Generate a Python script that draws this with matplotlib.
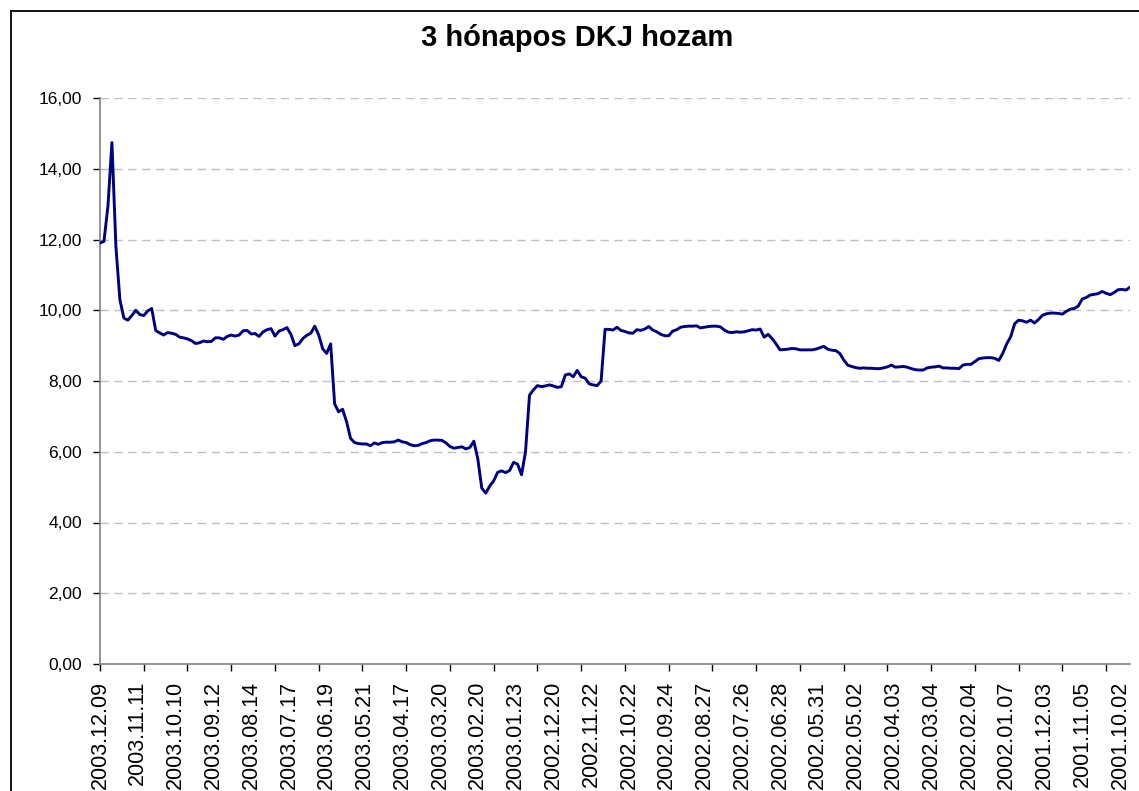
import matplotlib
matplotlib.use("Agg")
import matplotlib.pyplot as plt
from matplotlib.lines import Line2D
from matplotlib.ticker import FixedLocator, FuncFormatter, NullFormatter

plt.rcParams['font.family'] = ['Liberation Sans', 'DejaVu Sans']

title = "3 hónapos DKJ hozam"

# yield values, newest (2003.12.09) first (every 2nd trading day)
yields = [
    11.90, 11.95, 12.95, 14.74, 11.80, 10.30, 9.78, 9.72, 9.85, 10.00,
    9.88, 9.85, 9.98, 10.05, 9.43, 9.36, 9.30, 9.37, 9.35, 9.32,
    9.24, 9.22, 9.19, 9.14, 9.06, 9.08, 9.13, 9.11, 9.12, 9.22,
    9.22, 9.18, 9.26, 9.30, 9.27, 9.30, 9.42, 9.43, 9.33, 9.34,
    9.26, 9.39, 9.45, 9.48, 9.27, 9.41, 9.45, 9.51, 9.32, 9.00,
    9.05, 9.20, 9.29, 9.35, 9.55, 9.30, 8.91, 8.78, 9.05, 7.35,
    7.13, 7.20, 6.85, 6.38, 6.26, 6.23, 6.22, 6.22, 6.17, 6.25,
    6.21, 6.26, 6.27, 6.27, 6.28, 6.33, 6.28, 6.26, 6.20, 6.17,
    6.18, 6.23, 6.26, 6.31, 6.33, 6.33, 6.32, 6.25, 6.15, 6.10,
    6.12, 6.14, 6.08, 6.12, 6.30, 5.80, 4.97, 4.83, 5.03, 5.18,
    5.42, 5.46, 5.41, 5.47, 5.70, 5.65, 5.35, 6.00, 7.60, 7.75,
    7.87, 7.84, 7.86, 7.89, 7.86, 7.82, 7.84, 8.17, 8.20, 8.12,
    8.30, 8.12, 8.08, 7.92, 7.89, 7.87, 8.00, 9.46, 9.46, 9.44,
    9.52, 9.43, 9.40, 9.36, 9.35, 9.45, 9.43, 9.47, 9.54, 9.44,
    9.39, 9.32, 9.28, 9.28, 9.41, 9.45, 9.52, 9.54, 9.55, 9.55,
    9.56, 9.50, 9.52, 9.54, 9.55, 9.55, 9.53, 9.44, 9.38, 9.37,
    9.39, 9.38, 9.39, 9.42, 9.45, 9.44, 9.47, 9.24, 9.32, 9.20,
    9.05, 8.88, 8.89, 8.90, 8.92, 8.91, 8.88, 8.88, 8.88, 8.88,
    8.90, 8.94, 8.98, 8.90, 8.87, 8.86, 8.78, 8.60, 8.45, 8.41,
    8.38, 8.36, 8.37, 8.36, 8.36, 8.35, 8.35, 8.37, 8.40, 8.45,
    8.39, 8.40, 8.41, 8.39, 8.35, 8.32, 8.31, 8.31, 8.37, 8.39,
    8.40, 8.42, 8.37, 8.37, 8.36, 8.36, 8.35, 8.45, 8.47, 8.47,
    8.55, 8.63, 8.65, 8.66, 8.66, 8.64, 8.58, 8.78, 9.05, 9.25,
    9.62, 9.72, 9.70, 9.66, 9.72, 9.64, 9.74, 9.86, 9.90, 9.92,
    9.92, 9.91, 9.89, 9.97, 10.03, 10.05, 10.12, 10.32, 10.36, 10.43,
    10.45, 10.47, 10.53, 10.48, 10.44, 10.50, 10.58, 10.59, 10.57, 10.65,
]
days_per_sample = 2

date_labels = [
    "2003.12.09", "2003.11.11", "2003.10.10", "2003.09.12", "2003.08.14",
    "2003.07.17", "2003.06.19", "2003.05.21", "2003.04.17", "2003.03.20",
    "2003.02.20", "2003.01.23", "2002.12.20", "2002.11.22", "2002.10.22",
    "2002.09.24", "2002.08.27", "2002.07.26", "2002.06.28", "2002.05.31",
    "2002.05.02", "2002.04.03", "2002.03.04", "2002.02.04", "2002.01.07",
    "2001.12.03", "2001.11.05", "2001.10.02",
]
label_every = 19   # trading days between category labels
tick_every = 22    # trading days between tick marks

y_ticks = [0, 2, 4, 6, 8, 10, 12, 14, 16]

W, H = 1139, 791
fig = plt.figure(figsize=(W / 100, H / 100), dpi=100)
fig.patch.set_facecolor("white")

ax = fig.add_axes([100 / W, 1 - 664 / H, 1030 / W, (664 - 98) / H])

x = [i * days_per_sample for i in range(len(yields))]
ax.plot(x, yields, color="#000080", lw=2.1, solid_joinstyle="round", zorder=3)

xmax = x[-1]
ax.set_xlim(0, xmax)
ax.set_ylim(0, 16)

label_pos = [i * label_every for i in range(len(date_labels))]
tick_pos = [i * tick_every for i in range(xmax // tick_every + 1)]
ax.xaxis.remove_overlapping_locs = False
ax.xaxis.set_major_locator(FixedLocator(label_pos))
ax.set_xticklabels(date_labels, rotation=90, fontsize=15.5)
ax.xaxis.set_minor_locator(FixedLocator(tick_pos))
ax.xaxis.set_minor_formatter(NullFormatter())
ax.tick_params(axis="x", which="major", length=0, pad=12)
ax.tick_params(axis="x", which="minor", direction="out", length=5, width=1, color="#000000")

ax.yaxis.set_major_locator(FixedLocator(y_ticks))
ax.yaxis.set_major_formatter(FuncFormatter(lambda v, p: f"{v:.2f}".replace(".", ",")))
ax.tick_params(axis="y", labelsize=12.5, direction="out", length=5, width=1, color="#000000", pad=8)

ax.grid(axis="y", color="#c0c0c0", linestyle=(0, (6, 4)), linewidth=1)
ax.set_axisbelow(True)
for s in ["top", "right"]:
    ax.spines[s].set_visible(False)
for s in ["left", "bottom"]:
    ax.spines[s].set_color("#808080")
    ax.spines[s].set_linewidth(1.2)

fig.text(577 / W, 1 - 38 / H, title, ha="center", va="center", fontsize=21, fontweight="bold")

# outer chart border
fig.add_artist(Line2D([10.5 / W, 10.5 / W], [0, 1 - 10.5 / H], color="black", lw=1.3, transform=fig.transFigure))
fig.add_artist(Line2D([10.5 / W, 1], [1 - 10.5 / H, 1 - 10.5 / H], color="black", lw=1.3, transform=fig.transFigure))

fig.savefig("out.png", dpi=100, facecolor="white")
